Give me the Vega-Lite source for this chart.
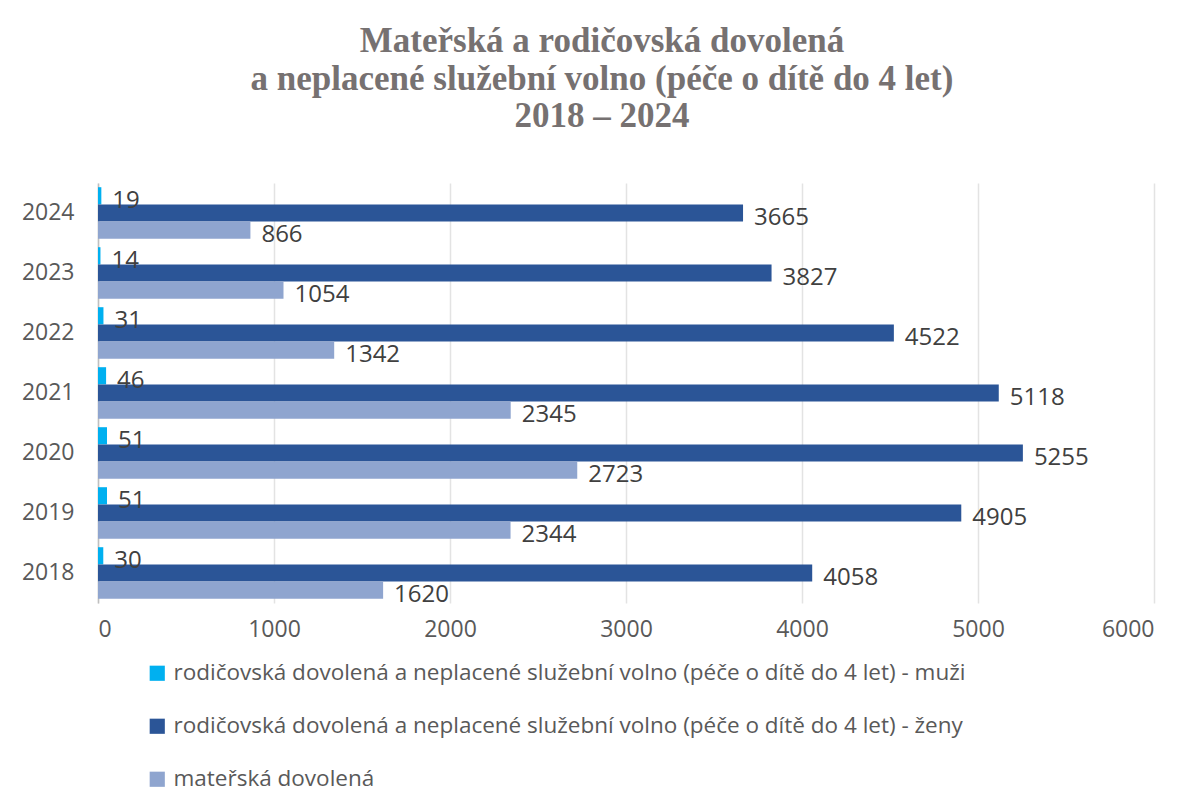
{
  "$schema": "https://vega.github.io/schema/vega-lite/v6.json",
  "autosize": "none",
  "width": 1056,
  "height": 420,
  "padding": {"left": 98, "top": 183, "right": 44, "bottom": 204},
  "background": "white",
  "title": {
    "text": ["Mateřská a rodičovská dovolená", "a neplacené služební volno (péče o dítě do 4 let)", "2018 – 2024"],
    "font": "Liberation Serif",
    "fontSize": 35,
    "fontWeight": "bold",
    "color": "#767171",
    "lineHeight": 37.5,
    "anchor": "middle",
    "dx": -24,
    "offset": 49
  },
  "data": {
    "values": [
      {"year": "2024", "series": "rodičovská dovolená a neplacené služební volno (péče o dítě do 4 let) - muži", "value": 19},
      {"year": "2024", "series": "rodičovská dovolená a neplacené služební volno (péče o dítě do 4 let) - ženy", "value": 3665},
      {"year": "2024", "series": "mateřská dovolená", "value": 866},
      {"year": "2023", "series": "rodičovská dovolená a neplacené služební volno (péče o dítě do 4 let) - muži", "value": 14},
      {"year": "2023", "series": "rodičovská dovolená a neplacené služební volno (péče o dítě do 4 let) - ženy", "value": 3827},
      {"year": "2023", "series": "mateřská dovolená", "value": 1054},
      {"year": "2022", "series": "rodičovská dovolená a neplacené služební volno (péče o dítě do 4 let) - muži", "value": 31},
      {"year": "2022", "series": "rodičovská dovolená a neplacené služební volno (péče o dítě do 4 let) - ženy", "value": 4522},
      {"year": "2022", "series": "mateřská dovolená", "value": 1342},
      {"year": "2021", "series": "rodičovská dovolená a neplacené služební volno (péče o dítě do 4 let) - muži", "value": 46},
      {"year": "2021", "series": "rodičovská dovolená a neplacené služební volno (péče o dítě do 4 let) - ženy", "value": 5118},
      {"year": "2021", "series": "mateřská dovolená", "value": 2345},
      {"year": "2020", "series": "rodičovská dovolená a neplacené služební volno (péče o dítě do 4 let) - muži", "value": 51},
      {"year": "2020", "series": "rodičovská dovolená a neplacené služební volno (péče o dítě do 4 let) - ženy", "value": 5255},
      {"year": "2020", "series": "mateřská dovolená", "value": 2723},
      {"year": "2019", "series": "rodičovská dovolená a neplacené služební volno (péče o dítě do 4 let) - muži", "value": 51},
      {"year": "2019", "series": "rodičovská dovolená a neplacené služební volno (péče o dítě do 4 let) - ženy", "value": 4905},
      {"year": "2019", "series": "mateřská dovolená", "value": 2344},
      {"year": "2018", "series": "rodičovská dovolená a neplacené služební volno (péče o dítě do 4 let) - muži", "value": 30},
      {"year": "2018", "series": "rodičovská dovolená a neplacené služební volno (péče o dítě do 4 let) - ženy", "value": 4058},
      {"year": "2018", "series": "mateřská dovolená", "value": 1620}
    ]
  },
  "encoding": {
    "y": {
      "field": "year",
      "type": "nominal",
      "sort": "descending",
      "title": null,
      "scale": {"paddingInner": 0.14, "paddingOuter": 0.07},
      "axis": {
        "ticks": false,
        "domainColor": "#BFBFBF",
        "domainWidth": 1.5,
        "labelFont": "Open Sans",
        "labelFontSize": 23,
        "labelColor": "#595959",
        "labelPadding": 24
      }
    },
    "yOffset": {
      "field": "series",
      "type": "nominal",
      "sort": [
        "rodičovská dovolená a neplacené služební volno (péče o dítě do 4 let) - muži",
        "rodičovská dovolená a neplacené služební volno (péče o dítě do 4 let) - ženy",
        "mateřská dovolená"
      ]
    },
    "x": {
      "field": "value",
      "type": "quantitative",
      "title": null,
      "scale": {"domain": [0, 6000], "nice": false},
      "axis": {
        "values": [0, 1000, 2000, 3000, 4000, 5000, 6000],
        "format": "d",
        "domain": false,
        "ticks": false,
        "gridColor": "#E3E3E3",
        "gridWidth": 1.5,
        "labelFont": "Open Sans",
        "labelFontSize": 23,
        "labelColor": "#595959",
        "labelPadding": 15
      }
    }
  },
  "layer": [
    {
      "mark": {"type": "bar"},
      "encoding": {
        "color": {
          "field": "series",
          "type": "nominal",
          "title": null,
          "sort": [
            "rodičovská dovolená a neplacené služební volno (péče o dítě do 4 let) - muži",
            "rodičovská dovolená a neplacené služební volno (péče o dítě do 4 let) - ženy",
            "mateřská dovolená"
          ],
          "scale": {
            "domain": [
              "rodičovská dovolená a neplacené služební volno (péče o dítě do 4 let) - muži",
              "rodičovská dovolená a neplacené služební volno (péče o dítě do 4 let) - ženy",
              "mateřská dovolená"
            ],
            "range": ["#00B0F0", "#2B5597", "#8FA5CF"]
          },
          "legend": {
            "orient": "none",
            "legendX": 48,
            "legendY": 479,
            "direction": "vertical",
            "symbolType": "square",
            "symbolSize": 230,
            "symbolStrokeWidth": 0,
            "labelFont": "Open Sans",
            "labelFontSize": 22.5,
            "labelColor": "#595959",
            "labelLimit": 1100,
            "labelOffset": 5,
            "rowPadding": 30
          }
        }
      }
    },
    {
      "mark": {"type": "text", "align": "left", "baseline": "middle", "dx": 11, "dy": 5, "font": "Open Sans", "fontSize": 24, "color": "#404040"},
      "encoding": {
        "text": {"field": "value", "type": "quantitative", "format": "d"}
      }
    }
  ],
  "config": {
    "view": {"stroke": null}
  }
}
